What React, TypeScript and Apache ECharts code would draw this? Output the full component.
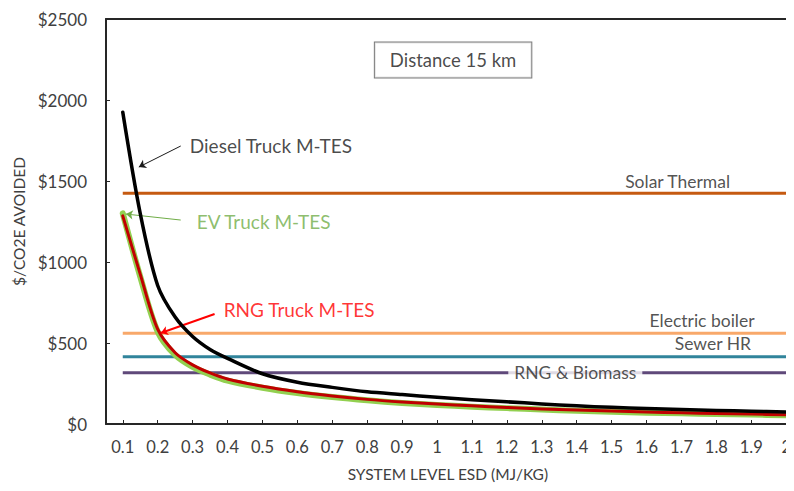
import React, { useEffect, useRef } from "react";
import * as echarts from "echarts";

// ---- data ----
const xTickValues = [0.1, 0.2, 0.3, 0.4, 0.5, 0.6, 0.7, 0.8, 0.9, 1.0, 1.1, 1.2, 1.3, 1.4, 1.5, 1.6, 1.7, 1.8, 1.9, 2.0];
const xTickLabels = ["0.1", "0.2", "0.3", "0.4", "0.5", "0.6", "0.7", "0.8", "0.9", "1", "1.1", "1.2", "1.3", "1.4", "1.5", "1.6", "1.7", "1.8", "1.9", "2"];
const esd = [0.1, 0.15, 0.2, 0.25, 0.3, 0.35, 0.4, 0.5, 0.6, 0.7, 0.8, 0.9, 1.0, 1.1, 1.2, 1.3, 1.4, 1.5, 1.6, 1.7, 1.8, 1.9, 2.0];
const dieselCost = [1925, 1300, 855, 660, 540, 460, 405, 310, 258, 226, 199, 182, 165, 150, 137, 124, 112, 103, 96, 90, 84, 79, 74];
const rngCost = [1285, 925, 585, 440, 365, 315, 278, 233, 199, 173, 152, 136, 123, 112, 102, 93, 86, 80, 74, 69, 65, 61, 57];
const evCost = [1300, 910, 570, 426, 352, 305, 268, 224, 191, 166, 146, 130, 118, 107, 98, 89, 82, 76, 70, 66, 62, 58, 54];
const benchmarkNames = ["Solar Thermal", "Electric boiler", "Sewer HR", "RNG & Biomass"];
const benchmarkValues = [1425, 560, 415, 316];
const benchmarkColors = ["#C55A11", "#F8A86A", "#31849B", "#5F497A"];
const yTicks = [0, 500, 1000, 1500, 2000, 2500];

const FONT = "Lato";

export default function App() {
  const ref = useRef<HTMLDivElement>(null);
  useEffect(() => {
    if (!ref.current) return;
    const chart = echarts.init(ref.current, null, { renderer: "svg" });

    const benchmarkSeries = benchmarkNames.map((name, i) => ({
      name,
      type: "line",
      data: [
        [esd[0], benchmarkValues[i]],
        [esd[esd.length - 1], benchmarkValues[i]],
      ],
      symbol: "none",
      lineStyle: { color: benchmarkColors[i], width: 3 },
      z: 2,
    }));

    const curve = (name: string, vals: number[], color: string, width: number, z: number) => ({
      name,
      type: "line",
      data: esd.map((x, i) => [x, vals[i]]),
      symbol: "none",
      smooth: 0.3,
      lineStyle: { color, width, cap: "round", join: "round" },
      z,
    });

    const txt = (value: [number, number], text: string, color: string, size: number, align: string, extra: any = {}) => ({
      value,
      label: {
        show: true,
        formatter: text,
        color,
        fontSize: size,
        fontFamily: FONT,
        position: "inside",
        align,
        verticalAlign: "middle",
        ...extra,
      },
    });

    const option: any = {
      animation: false,
      backgroundColor: "#ffffff",
      grid: { left: 106, right: 3, top: 19, bottom: 67, containLabel: false },
      xAxis: [
        {
          type: "value",
          min: 0.052,
          max: 2.01,
          name: "SYSTEM LEVEL ESD (MJ/KG)",
          nameLocation: "middle",
          nameGap: 42,
          nameTextStyle: { color: "#404040", fontSize: 15.5, fontFamily: FONT },
          axisLine: { show: true, lineStyle: { color: "#262626", width: 2 } },
          axisTick: { show: true, inside: true, length: 4, customValues: xTickValues, lineStyle: { color: "#262626", width: 1 } },
          axisLabel: {
            customValues: xTickValues,
            formatter: (v: number) => {
              const i = xTickValues.findIndex((x) => Math.abs(x - v) < 1e-6);
              return i >= 0 ? xTickLabels[i] : "";
            },
            color: "#404040",
            fontSize: 16.5,
            fontFamily: FONT,
            margin: 14,
            hideOverlap: false,
            showMaxLabel: true,
          },
          splitLine: { show: false },
        },
        {
          type: "value",
          position: "top",
          min: 0.052,
          max: 2.01,
          axisLine: { show: true, onZero: false, lineStyle: { color: "#262626", width: 2 } },
          axisTick: { show: false },
          axisLabel: { show: false },
          splitLine: { show: false },
        },
      ],
      yAxis: {
        type: "value",
        min: 0,
        max: 2500,
        interval: 500,
        name: "$/CO2E AVOIDED",
        nameLocation: "middle",
        nameGap: 71,
        nameTextStyle: { color: "#404040", fontSize: 15.5, fontFamily: FONT },
        axisLine: { show: true, lineStyle: { color: "#262626", width: 2 } },
        axisTick: { show: true, inside: true, length: 4, lineStyle: { color: "#262626", width: 1 } },
        axisLabel: {
          formatter: (v: number) => (yTicks.includes(v) ? "$" + v : ""),
          color: "#404040",
          fontSize: 17,
          fontFamily: FONT,
          margin: 19,
        },
        splitLine: { show: false },
      },
      series: [
        ...benchmarkSeries,
        curve("EV Truck M-TES", evCost, "#92D050", 6, 3),
        curve("RNG Truck M-TES", rngCost, "#C00000", 3, 4),
        curve("Diesel Truck M-TES", dieselCost, "#000000", 3.5, 5),
        {
          name: "annotations",
          type: "scatter",
          symbolSize: 0,
          silent: true,
          z: 10,
          data: [
            txt([1.689, 1500], "Solar Thermal", "#262626", 17.5, "center"),
            txt([1.759, 638], "Electric boiler", "#262626", 17.5, "center"),
            txt([1.79, 494], "Sewer HR", "#262626", 17.5, "center"),
            txt([1.396, 316], "RNG & Biomass", "#262626", 17.5, "center", {
              backgroundColor: "#ffffff",
              padding: [2, 6],
            }),
            txt([0.292, 1722], "Diesel Truck M-TES", "#1a1a1a", 19, "left"),
            txt([0.312, 1253], "EV Truck M-TES", "#70AD47", 19, "left"),
            txt([0.389, 704], "RNG Truck M-TES", "#FF0000", 19, "left"),
            txt([1.046, 2247], "Distance 15 km", "#1a1a1a", 18.5, "center", {
              backgroundColor: "#ffffff",
              borderColor: "#595959",
              borderWidth: 1,
              padding: [8, 15],
            }),
          ],
          markLine: {
            silent: true,
            symbol: ["none", "arrow"],
            symbolSize: 7,
            label: { show: false },
            data: [
              [
                { coord: [0.266, 1716], lineStyle: { color: "#1a1a1a", width: 1, type: "solid" } },
                { coord: [0.146, 1586] },
              ],
              [
                { coord: [0.266, 1259], lineStyle: { color: "#70AD47", width: 1, type: "solid" } },
                { coord: [0.109, 1296] },
              ],
              [
                { coord: [0.363, 679], lineStyle: { color: "#FF0000", width: 2, type: "solid" } },
                { coord: [0.209, 562] },
              ],
            ],
          },
        },
      ],
    };
    chart.setOption(option);
    return () => chart.dispose();
  }, []);
  return <div ref={ref} style={{ width: 794, height: 491, margin: -8 }} />;
}
